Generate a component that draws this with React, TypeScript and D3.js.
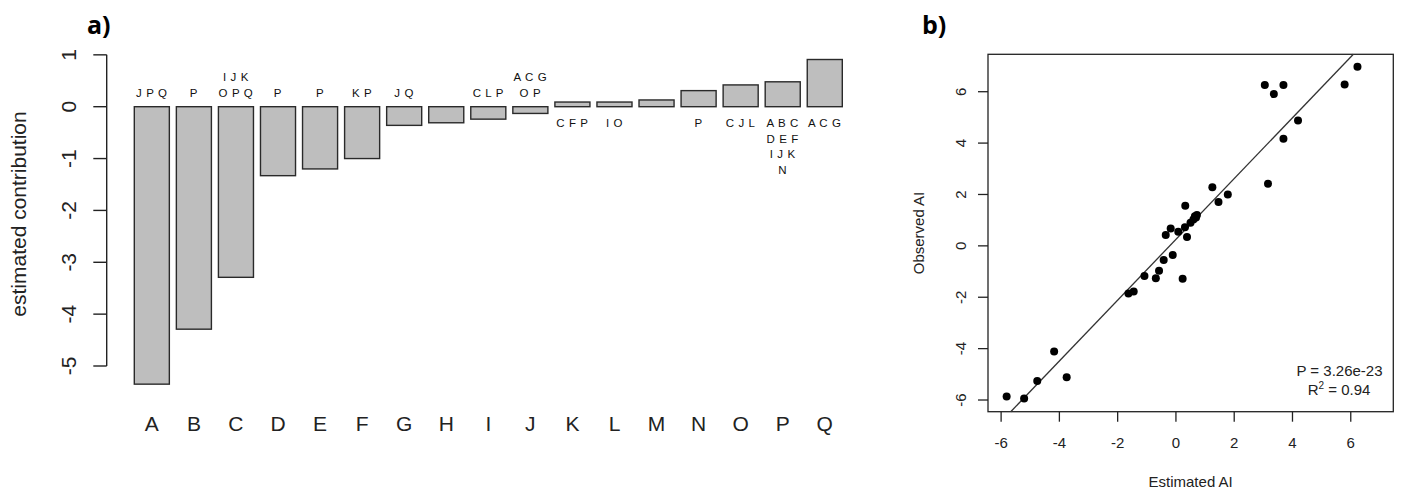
import React from "react";
import * as d3 from "d3";

// ---------- Panel a data ----------
const categories = ["A","B","C","D","E","F","G","H","I","J","K","L","M","N","O","P","Q"];
const contributions = [-5.35, -4.29, -3.29, -1.33, -1.2, -1.0, -0.36, -0.31, -0.24, -0.13, 0.09, 0.09, 0.13, 0.31, 0.42, 0.48, 0.91];
const barAnnotations: string[][] = [
  ["JPQ"], ["P"], ["IJK", "OPQ"], ["P"], ["P"], ["KP"], ["JQ"], [], ["CLP"], ["ACG", "OP"],
  ["CFP"], ["IO"], [], ["P"], ["CJL"], ["ABC", "DEF", "IJK", "N"], ["ACG"],
];
const contribTicks = [1, 0, -1, -2, -3, -4, -5];

// ---------- Panel b data ----------
const estimatedAI = [
  -5.81, -5.21, -4.76, -4.18, -3.75, -1.63, -1.45, -1.08, -0.69, -0.58, 0.23, -0.42, -0.11,
  -0.35, -0.18, 0.08, 0.31, 0.38, 0.32, 0.5, 0.6, 0.69, 0.72, 0.65, 1.25, 1.46, 1.78,
  3.16, 3.69, 4.19, 3.05, 3.36, 3.69, 5.79, 6.23,
];
const observedAI = [
  -5.86, -5.94, -5.26, -4.11, -5.11, -1.85, -1.78, -1.17, -1.26, -0.97, -1.28, -0.55, -0.36,
  0.42, 0.68, 0.55, 0.72, 0.34, 1.56, 0.9, 1.03, 1.1, 1.2, 1.15, 2.28, 1.71, 2.0,
  2.42, 4.17, 4.88, 6.26, 5.91, 6.26, 6.28, 6.97,
];
const scatterTicks = [-6, -4, -2, 0, 2, 4, 6];
const fitIntercept = 0.253;
const fitSlope = 1.183;
const pValueText = "P = 3.26e-23";
const r2Text = " = 0.94";

const FONT = "'Liberation Sans', Arial, Helvetica, sans-serif";
const INK = "#222";

export default function App() {
  // Panel a scales
  const xBand = d3.scaleBand<string>().domain(categories).range([134.3, 842.3]).paddingInner(1 / 6).paddingOuter(0);
  const yA = d3.scaleLinear().domain([-5, 0]).range([366, 106.7]);
  const axisXA = 106.7;

  // Panel b scales
  const lim: [number, number] = [-6.45, 7.46];
  const xB = d3.scaleLinear().domain(lim).range([988, 1393.3]);
  const yB = d3.scaleLinear().domain([-6.455, 7.456]).range([411.7, 54.3]);

  const lineFn = (x: number) => fitIntercept + fitSlope * x;
  const yLo = -6.455, yHi = 7.456;
  const xa = Math.max(lim[0], (yLo - fitIntercept) / fitSlope);
  const xb = Math.min(lim[1], (yHi - fitIntercept) / fitSlope);
  const linePath = d3.line<number>().x((d) => xB(d)).y((d) => yB(lineFn(d)))([xa, xb]) || "";

  const annFont = 11.5;
  const annLine = 15.4;

  return (
    <svg width={1402} height={490} style={{ position: "absolute", left: 0, top: 0, background: "#fff" }} fontFamily={FONT}>
      {/* Panel labels */}
      <text x={87} y={34} fontFamily="'Open Sans', sans-serif" fontWeight={700} fontSize={25} fill="#000">a)</text>
      <text x={922} y={34} fontFamily="'Open Sans', sans-serif" fontWeight={700} fontSize={25} fill="#000">b)</text>

      {/* ---------------- Panel a ---------------- */}
      <g>
        <line x1={axisXA} x2={axisXA} y1={yA(1)} y2={yA(-5)} stroke={INK} strokeWidth={1.4} />
        {contribTicks.map((t) => (
          <g key={"ta" + t}>
            <line x1={axisXA - 13.4} x2={axisXA} y1={yA(t)} y2={yA(t)} stroke={INK} strokeWidth={1.4} />
            <text transform={`translate(76,${yA(t)}) rotate(-90)`} textAnchor="middle" fontSize={21} fill={INK}>
              {t}
            </text>
          </g>
        ))}
        <text transform={`translate(25.5,214) rotate(-90)`} textAnchor="middle" fontSize={21} fill={INK}>
          estimated contribution
        </text>

        {categories.map((c, i) => {
          const v = contributions[i];
          const x = xBand(c)!;
          const w = xBand.bandwidth();
          const y0 = yA(Math.max(0, v));
          const y1 = yA(Math.min(0, v));
          return (
            <rect key={"bar" + c} x={x} y={y0} width={w} height={Math.max(0.5, y1 - y0)} fill="#bebebe" stroke="#2a2a2a" strokeWidth={1.4} />
          );
        })}

        {categories.map((c, i) => {
          const lines = barAnnotations[i];
          const cx = xBand(c)! + xBand.bandwidth() / 2;
          const v = contributions[i];
          return lines.map((ln, j) => {
            const y = v < 0 ? yA(0) - 10 - (lines.length - 1 - j) * annLine : yA(0) + 20.6 + j * annLine;
            return (
              <text key={"ann" + c + j} x={cx} y={y} textAnchor="middle" fontSize={annFont} letterSpacing={0.6} fill="#111">
                {ln.split("").join(" ")}
              </text>
            );
          });
        })}

        {categories.map((c) => (
          <text key={"cl" + c} x={xBand(c)! + xBand.bandwidth() / 2} y={430.5} textAnchor="middle" fontSize={21} fill={INK}>
            {c}
          </text>
        ))}
      </g>

      {/* ---------------- Panel b ---------------- */}
      <g>
        <rect x={988} y={54.3} width={1393.3 - 988} height={411.7 - 54.3} fill="none" stroke={INK} strokeWidth={1.3} />
        {scatterTicks.map((t) => (
          <g key={"xb" + t}>
            <line x1={xB(t)} x2={xB(t)} y1={411.7} y2={421.7} stroke={INK} strokeWidth={1.3} />
            <text x={xB(t)} y={447.5} textAnchor="middle" fontSize={15} fill={INK}>{t}</text>
          </g>
        ))}
        {scatterTicks.map((t) => (
          <g key={"yb" + t}>
            <line x1={978} x2={988} y1={yB(t)} y2={yB(t)} stroke={INK} strokeWidth={1.3} />
            <text transform={`translate(965.5,${yB(t)}) rotate(-90)`} textAnchor="middle" fontSize={15} fill={INK}>{t}</text>
          </g>
        ))}
        <text x={(988 + 1393.3) / 2} y={486.5} textAnchor="middle" fontSize={15} fill={INK}>Estimated AI</text>
        <text transform={`translate(923.5,${(54.3 + 411.7) / 2}) rotate(-90)`} textAnchor="middle" fontSize={15} fill={INK}>Observed AI</text>

        <path d={linePath} stroke="#333" strokeWidth={1.3} fill="none" />

        {estimatedAI.map((x, i) => (
          <circle key={"pt" + i} cx={xB(x)} cy={yB(observedAI[i])} r={4} fill="#000" />
        ))}

        <text x={1339.5} y={376} textAnchor="middle" fontSize={15} fill={INK}>{pValueText}</text>
        <text x={1339} y={395} textAnchor="middle" fontSize={15} fill={INK}>
          R<tspan dy={-6} fontSize={10}>2</tspan>
          <tspan dy={6}>{r2Text}</tspan>
        </text>
      </g>
    </svg>
  );
}
